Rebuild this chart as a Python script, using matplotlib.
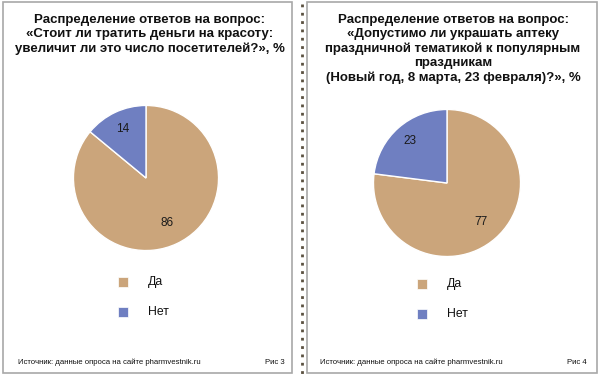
import matplotlib
matplotlib.use("Agg")
import matplotlib.pyplot as plt
import numpy as np
from matplotlib.patches import Rectangle
from matplotlib.lines import Line2D

W, H = 600, 377

# Data
labels = ["Да", "Нет"]
left_values = [86, 14]
right_values = [77, 23]
colors = ["#CBA57B", "#6F7FC1"]

left_title = "Распределение ответов на вопрос:\n«Стоит ли тратить деньги на красоту:\nувеличит ли это число посетителей?», %"
right_title = ("Распределение ответов на вопрос:\n«Допустимо ли украшать аптеку\n"
               "праздничной тематикой к популярным\nпраздникам\n(Новый год, 8 марта, 23 февраля)?», %")
source = "Источник: данные опроса на сайте pharmvestnik.ru"
fig_labels = ["Рис 3", "Рис 4"]

plt.rcParams['font.family'] = ['Liberation Sans', 'DejaVu Sans']

fig = plt.figure(figsize=(W / 100, H / 100), dpi=100)
fig.patch.set_facecolor("white")

def fx(x):
    return x / W

def fy(y):
    return 1 - y / H

# panel borders
for x0, x1 in [(3, 292), (307, 597)]:
    fig.patches.append(Rectangle((fx(x0), fy(373)), fx(x1 - x0), (373 - 2) / H,
                                 transform=fig.transFigure, fill=False,
                                 edgecolor="#A8A8A8", linewidth=1.2))
# dotted separator
fig.add_artist(Line2D([fx(302), fx(302)], [fy(4), fy(374)], transform=fig.transFigure,
                      color="#5A5040", linewidth=2, linestyle=(0, (1, 2))))

def draw_pie(values, cx, cy, r, label_dist):
    ax = fig.add_axes([fx(cx - r), fy(cy + r), 2 * r / W, 2 * r / H])
    wedges, _ = ax.pie(values, colors=colors, startangle=90, counterclock=False,
                       radius=1, wedgeprops=dict(edgecolor="white", linewidth=1))
    ang = 90.0
    total = sum(values)
    for v, d in zip(values, label_dist):
        mid = ang - v / total * 360 / 2
        ang -= v / total * 360
        t = np.deg2rad(mid)
        ax.text(d * np.cos(t), d * np.sin(t), str(v), ha="center", va="center",
                fontsize=8.5, color="#1a1a1a")
    ax.set_xlim(-1.02, 1.02)
    ax.set_ylim(-1.02, 1.02)
    ax.set_aspect("equal")
    ax.axis("off")
    return wedges

w1 = draw_pie(left_values, 146, 178, 74, [0.68, 0.75])
w2 = draw_pie(right_values, 447, 183, 75, [0.70, 0.77])

# titles
fig.text(fx(150), fy(14), left_title, ha="center", va="top", fontsize=9.5,
         fontweight="bold", linespacing=1.25, color="#111111")
fig.text(fx(453), fy(14), right_title, ha="center", va="top", fontsize=9.5,
         fontweight="bold", linespacing=1.25, color="#111111")

# legends
for wedges, lx, ly in [(w1, 123, 282), (w2, 422, 284)]:
    for i, (lab, col) in enumerate(zip(labels, colors)):
        yy = ly + i * 30
        fig.patches.append(Rectangle((fx(lx - 5), fy(yy + 5)), 10 / W, 10 / H,
                                     transform=fig.transFigure, facecolor=col,
                                     edgecolor="white", linewidth=0.5))
        fig.text(fx(lx + 25), fy(yy), lab, ha="left", va="center", fontsize=8.8,
                 color="#111111")

# footers
fs = 5.6
fig.text(fx(18), fy(362), source, ha="left", va="center", fontsize=fs, color="#111111")
fig.text(fx(285), fy(362), fig_labels[0], ha="right", va="center", fontsize=fs, color="#111111")
fig.text(fx(320), fy(362), source, ha="left", va="center", fontsize=fs, color="#111111")
fig.text(fx(587), fy(362), fig_labels[1], ha="right", va="center", fontsize=fs, color="#111111")

fig.savefig("out.png", dpi=100, facecolor="white")
